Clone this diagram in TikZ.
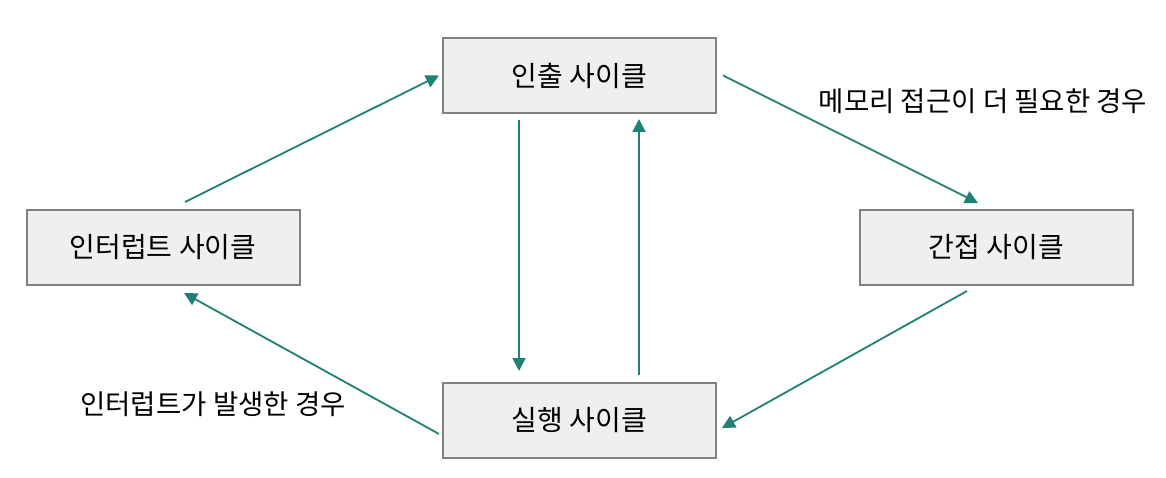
\documentclass[tikz,border=0pt]{standalone}
\usepackage{fontspec}
\setmainfont{Noto Sans CJK KR}
\usetikzlibrary{arrows.meta}
\definecolor{teal1}{RGB}{32,128,118}
\definecolor{boxfill}{RGB}{239,239,239}
\definecolor{boxline}{RGB}{128,128,128}
\begin{document}
\begin{tikzpicture}[x=1pt,y=-1pt,
  cyc/.style={draw=boxline,line width=2pt,fill=boxfill,minimum width=273pt,minimum height=75pt,inner sep=0pt,font=\fontsize{28}{32}\selectfont},
  conn/.style={draw=teal1,line width=1.8pt,-{Triangle[length=13pt,width=13pt]}},
  lbl/.style={font=\fontsize{27.5}{32}\selectfont,inner sep=0pt}]
\useasboundingbox[fill=white] (0,0) rectangle (1166,478);
\node[cyc] (fetch) at (579.5,75.5) {인출 사이클};
\node[cyc] (intr) at (163,247.5) {인터럽트 사이클};
\node[cyc] (ind) at (996.5,247.5) {간접 사이클};
\node[cyc] (exec) at (579.5,420.5) {실행 사이클};
\draw[conn] ([xshift=22pt,yshift=7pt]intr.north) -- ([xshift=-3pt]fetch.west);
\draw[conn] ([xshift=6pt]fetch.east) -- ([xshift=-18.5pt,yshift=6pt]ind.north);
\draw[conn] ([xshift=-29.5pt,yshift=-5pt]ind.south) -- ([xshift=5pt,yshift=-7.5pt]exec.east);
\draw[conn] ([xshift=-3pt,yshift=-13.5pt]exec.west) -- ([xshift=21pt,yshift=-7pt]intr.south);
\draw[conn] ([xshift=-60.5pt,yshift=-6pt]fetch.south) -- ([xshift=-60.5pt,yshift=11pt]exec.north);
\draw[conn] ([xshift=59.5pt,yshift=7pt]exec.north) -- ([xshift=59.5pt,yshift=-5pt]fetch.south);
\node[lbl] (l1) at (983,101) {메모리 접근이 더 필요한 경우};
\node[lbl] (l2) at (213,404) {인터럽트가 발생한 경우};
\end{tikzpicture}
\end{document}
